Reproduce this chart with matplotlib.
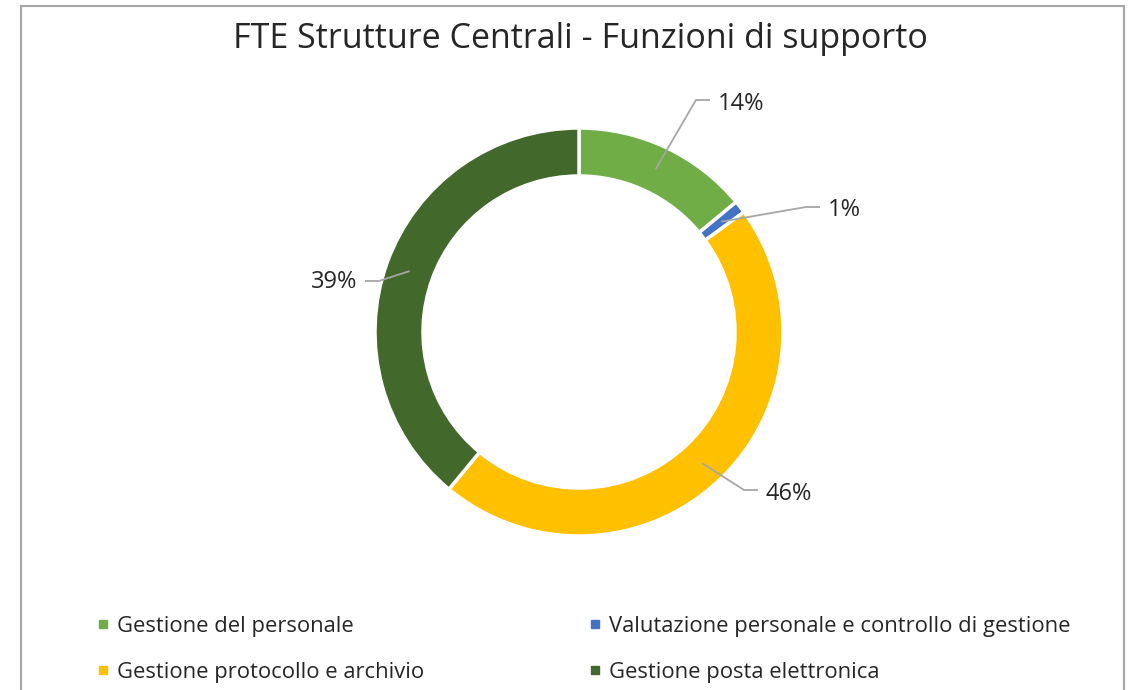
import numpy as np
import matplotlib
matplotlib.use("Agg")
import matplotlib.pyplot as plt
from matplotlib.patches import Rectangle

plt.rcParams['font.family'] = ['Open Sans', 'DejaVu Sans']

# ---------------- data ----------------
title = "FTE Strutture Centrali - Funzioni di supporto"
categories = ["Gestione del personale",
              "Valutazione personale e controllo di gestione",
              "Gestione protocollo e archivio",
              "Gestione posta elettronica"]
shares = [14, 1, 46, 39]
colors = ["#70AD47", "#4472C4", "#FFC000", "#43682B"]

# ---------------- layout (pixels, from top-left) ----------------
W, H = 1133, 690
center_px = (579, 332)
radius = 204
ring_width = 48
# label text anchor: (x, y_baseline, side) side=+1 -> label right of leader
label_layout = [(718, 110, +1), (828, 216, +1), (766, 500, +1), (357, 288, -1)]
leader_y = [100, 207, 490, 281]
legend_cols = [103, 595]
legend_rows = [624, 670]
TEXT = "#262626"
GRID = "#A6A6A6"

fig = plt.figure(figsize=(W / 100, H / 100), dpi=100)
ax = fig.add_axes([0, 0, 1, 1])

def Y(y):
    return H - y

# frame
ax.add_patch(Rectangle((21, Y(H + 10)), 1124 - 21, (H + 10) - 6,
                       fill=False, edgecolor=GRID, linewidth=1.5))

cx, cy = center_px[0], Y(center_px[1])
wedges, _ = ax.pie(shares, colors=colors, startangle=90, counterclock=False,
                   center=(cx, cy), radius=radius,
                   wedgeprops=dict(width=ring_width, edgecolor='white', linewidth=2.5),
                   frame=True)
ax.set_xlim(0, W)
ax.set_ylim(0, H)
ax.set_aspect('equal')
ax.axis('off')

# labels with leaders
for w, s, (lx, ly, side), lyl in zip(wedges, shares, label_layout, leader_y):
    mid = np.deg2rad((w.theta1 + w.theta2) / 2)
    r_anchor = radius - ring_width / 2
    ax_x = cx + r_anchor * np.cos(mid)
    ax_y = cy + r_anchor * np.sin(mid)
    end_x = lx - side * 8
    elbow_x = end_x - side * 14
    ax.plot([ax_x, elbow_x, end_x], [ax_y, Y(lyl), Y(lyl)], color=GRID, lw=1.3,
            solid_capstyle='butt')
    ax.text(lx, Y(ly), f"{s}%", ha='left' if side > 0 else 'right', va='baseline',
            fontsize=17, color=TEXT)

# title
ax.text(580, Y(48), title, ha='center', va='baseline', fontsize=24.5, color=TEXT)

# legend (row-major)
for i, (cat, col) in enumerate(zip(categories, colors)):
    r, c = divmod(i, 2)
    x0 = legend_cols[c]
    y0 = Y(legend_rows[r])
    ax.plot([x0], [y0], marker='s', markersize=5.2, color=col, linestyle='none')
    ax.text(x0 + 14, y0 - 8, cat, ha='left', va='baseline', fontsize=15.8, color=TEXT)

fig.savefig("out.png", dpi=100)
